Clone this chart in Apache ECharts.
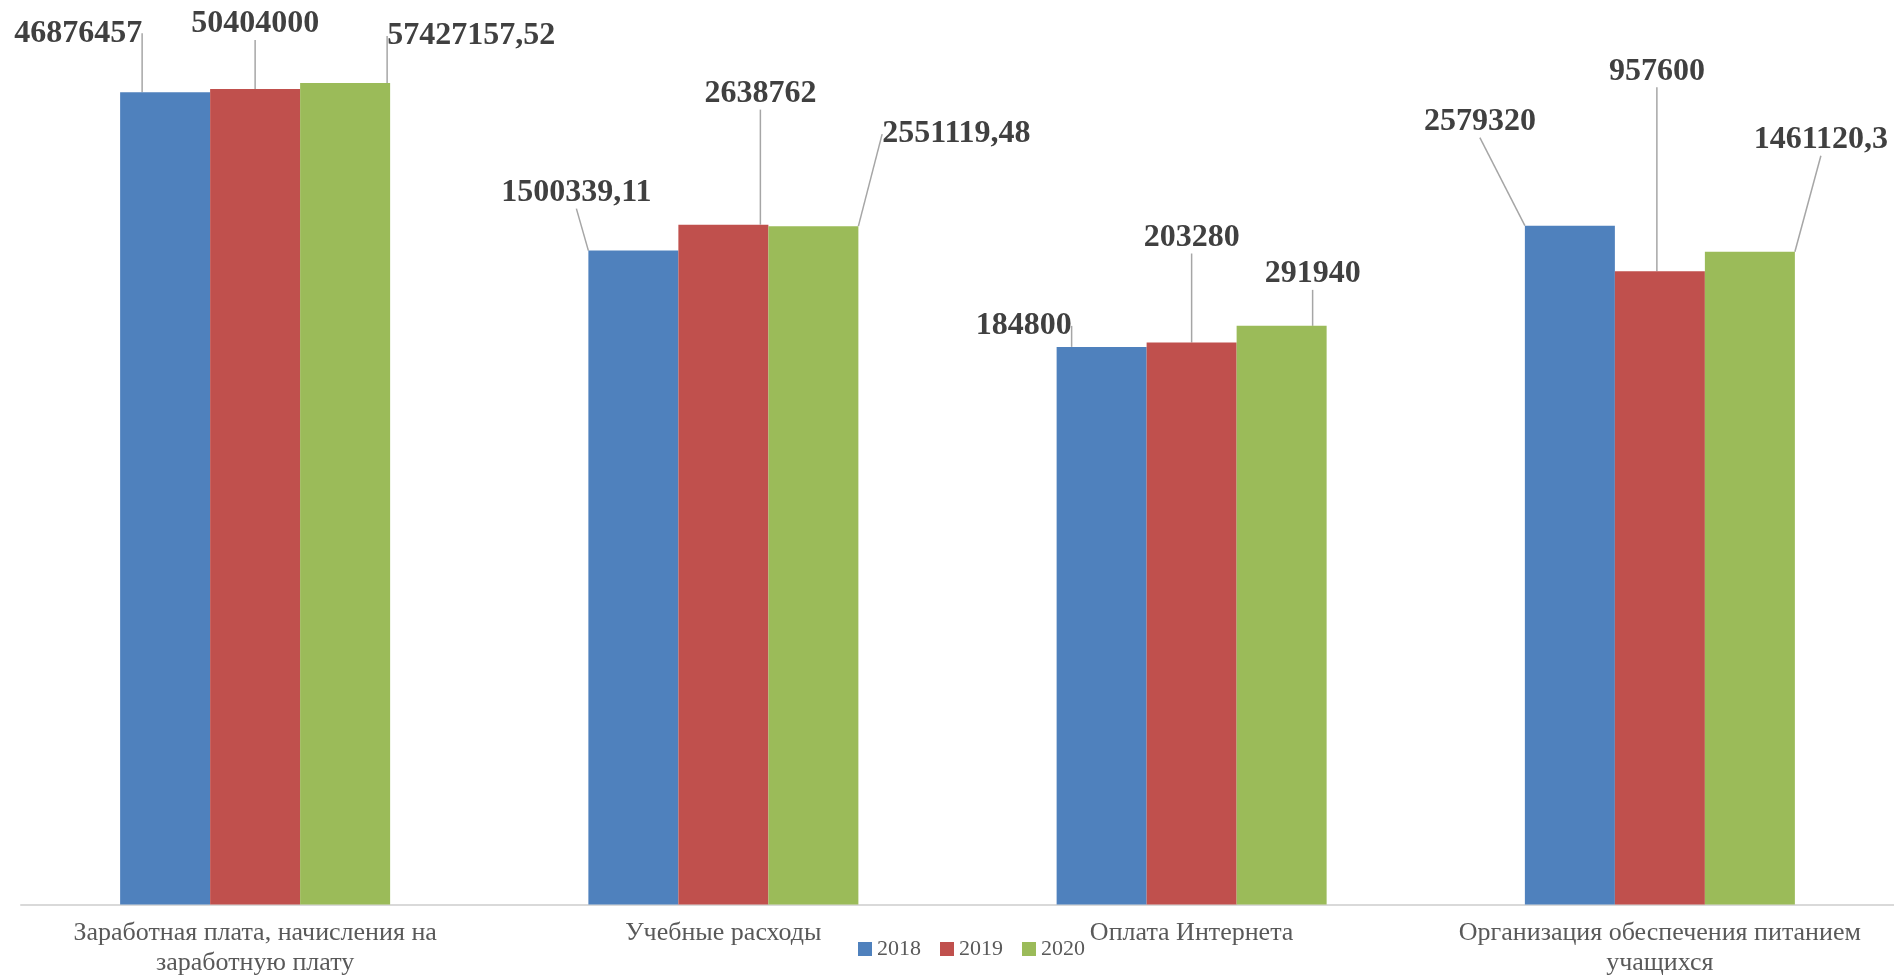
<!DOCTYPE html>
<html>
<head>
<meta charset="utf-8">
<script src="https://cdn.jsdelivr.net/npm/echarts@6/dist/echarts.min.js"></script>
<style>
  html, body { margin: 0; padding: 0; background: #fff; }
  #chart { width: 1894px; height: 978px; }
</style>
</head>
<body>
<div id="chart"></div>
<script>
var categories = [
  "Заработная плата, начисления на заработную плату",
  "Учебные расходы",
  "Оплата Интернета",
  "Организация обеспечения питанием учащихся"
];
var years = ["2018", "2019", "2020"];
var values2018 = [46876457, 1500339.11, 184800, 2579320];
var values2019 = [50404000, 2638762, 203280, 957600];
var values2020 = [57427157.52, 2551119.48, 291940, 1461120.3];

// сдвиг подписей данных относительно вершины столбца (dx, dy)
var labelShift = [
  [[-87, -44], [-57, -43], [-78, -6], [-90, -89]],
  [[0, -50], [37, -116], [0, -90], [-3, -185]],
  [[126, -32], [143, -77], [31, -37], [71, -97]]
];
var colors = ["#4F81BD", "#C0504D", "#9BBB59"];
var catFont = "26px 'Liberation Serif'";

// перенос подписи категории по ширине
var ctx = document.createElement("canvas").getContext("2d");
function wrap(text, maxWidth) {
  ctx.font = catFont;
  var words = text.split(" ");
  var lines = [];
  var line = "";
  words.forEach(function (w) {
    var test = line ? line + " " + w : w;
    if (line && ctx.measureText(test).width > maxWidth) {
      lines.push(line);
      line = w;
    } else {
      line = test;
    }
  });
  lines.push(line);
  return lines.join("\n");
}

function makeSeries(name, data, idx) {
  return {
    name: name,
    type: "bar",
    data: data,
    barWidth: 90,
    barGap: "0%",
    itemStyle: { color: colors[idx] },
    label: {
      show: true,
      position: "top",
      distance: 0,
      color: "#404040",
      fontFamily: "Liberation Serif",
      fontWeight: "bold",
      fontSize: 32,
      lineHeight: 30,
      formatter: function (p) {
        return String(p.value).replace(".", ",");
      }
    },
    labelLine: {
      show: true,
      lineStyle: { color: "#A6A6A6", width: 1.5 }
    },
    labelLayout: function (p) {
      var s = labelShift[idx][p.dataIndex];
      return { dx: s[0], dy: s[1] };
    }
  };
}

var chart = echarts.init(document.getElementById("chart"));
var option = {
  animation: false,
  color: colors,
  grid: { left: 21, right: 0, top: 57.5, bottom: 73.5, outerBoundsMode: "none", containLabel: false },
  legend: {
    data: years,
    left: 853,
    top: 933,
    itemWidth: 14,
    itemHeight: 14,
    itemGap: 19,
    icon: "rect",
    textStyle: { fontFamily: "Liberation Serif", fontSize: 22, color: "#595959" }
  },
  xAxis: {
    type: "category",
    data: categories,
    axisLine: { lineStyle: { color: "#D9D9D9", width: 2 } },
    axisTick: { show: false },
    axisLabel: {
      interval: 0,
      margin: 14,
      color: "#595959",
      fontFamily: "Liberation Serif",
      fontSize: 26,
      lineHeight: 30,
      formatter: function (v) {
        return wrap(v, 450);
      }
    }
  },
  yAxis: {
    type: "log",
    logBase: 10,
    min: 1,
    max: 100000000,
    show: false,
    splitLine: { show: false }
  },
  series: [
    makeSeries(years[0], values2018, 0),
    makeSeries(years[1], values2019, 1),
    makeSeries(years[2], values2020, 2)
  ]
};
chart.setOption(option);
window.onresize = function () {
  chart.resize();
};
</script>
</body>
</html>
